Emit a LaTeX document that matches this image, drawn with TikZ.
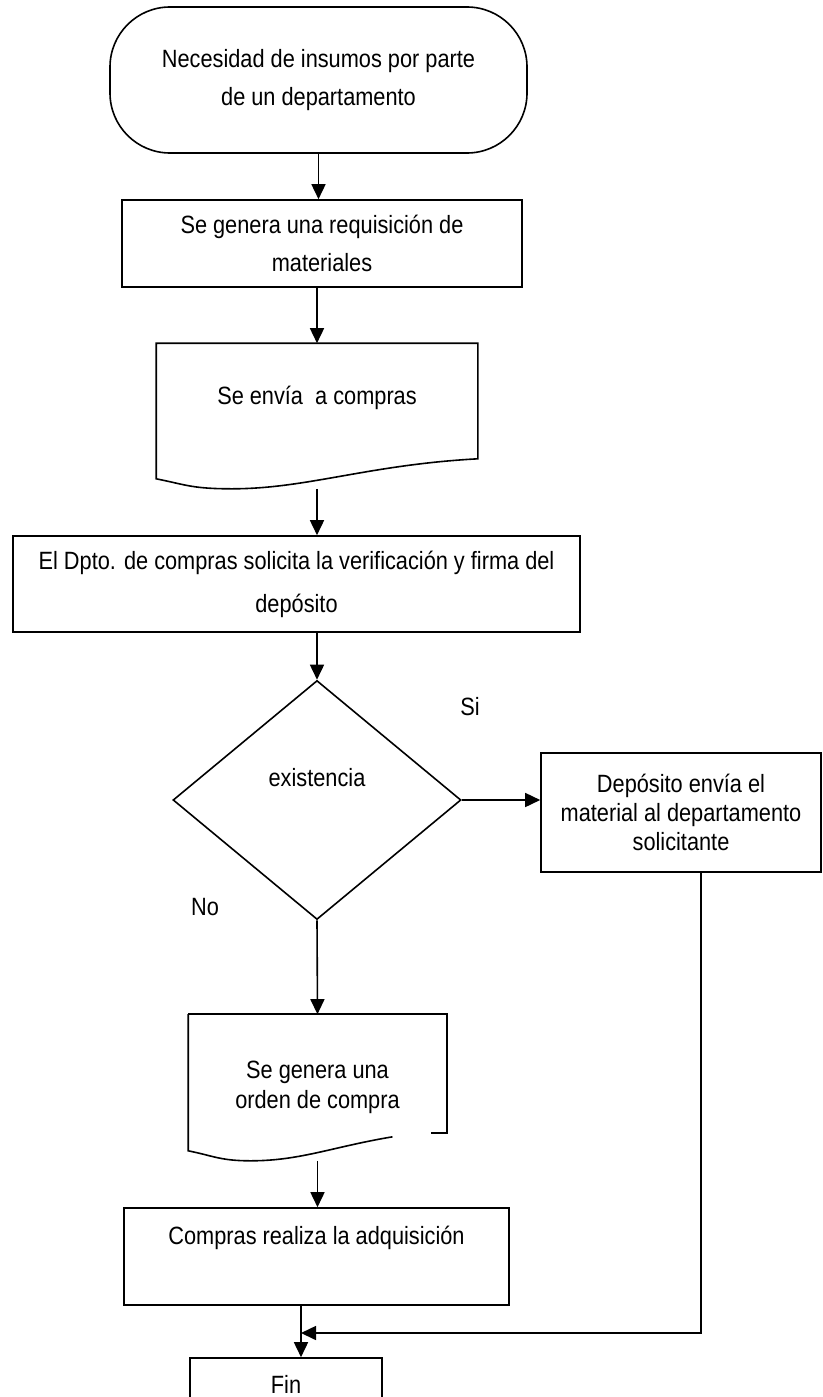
\documentclass[tikz,border=0pt]{standalone}
\usepackage{fontspec}
\setmainfont{Liberation Sans}[FakeStretch=0.87]
\usetikzlibrary{arrows.meta, shapes.geometric}

\begin{document}
\begin{tikzpicture}[x=1pt, y=1pt, line width=1.6pt, >={Triangle[length=15pt,width=14pt]},
                    font=\fontsize{25}{29}\selectfont,
                    main/.style = {draw, rectangle, align=center, inner sep=0pt},
                    term/.style = {draw, rectangle, rounded corners=60pt, align=center, inner sep=0pt},
                    deci/.style = {draw, diamond, align=center, inner sep=0pt},
                    docu/.style = {align=center, inner sep=0pt},
                    lbl/.style = {inner sep=0pt}]
                    \clip (0,0) rectangle (822,-1397);
                    \node[term, minimum width=417pt, minimum height=146pt] (term) at (318.5,-80) {Necesidad de insumos por parte\\[9pt]de un departamento};
                    \node[main, minimum width=400pt, minimum height=87pt] (req) at (322,-243.5) {Se genera una requisición de\\[9pt]materiales};
                    \node[docu, minimum width=320pt, minimum height=144pt] (doc1) at (317,-416) {Se envía\ \ a compras\\[13pt]\mbox{}};
                    \node[main, minimum width=567pt, minimum height=96pt] (dpto) at (296.5,-584) {El Dpto. de compras solicita la verificación y firma del\\[14pt]depósito};
                    \node[deci, minimum width=288pt, minimum height=239pt] (dia) at (317,-800) {existencia\\[17pt]\mbox{}};
                    \node[main, minimum width=280pt, minimum height=119pt] (dep) at (681,-812.5) {Depósito envía el\\material al departamento\\solicitante};
                    \node[docu, minimum width=257pt, minimum height=145pt] (doc2) at (317.5,-1087.5) {Se genera una\\[1pt]orden de compra};
                    \node[main, minimum width=385pt, minimum height=97pt] (adq) at (316.5,-1256.5) {Compras realiza la adquisición\\[13pt]\mbox{}};
                    \node[main, minimum width=192pt, minimum height=52pt] (fin) at (286,-1384) {Fin};
                    \node[lbl] (si) at (470,-707) {Si};
                    \node[lbl] (no) at (205,-907) {No};
                    \coordinate (mrg) at (301,-1333);
                    % document outlines
                    \draw (doc1.north east) -- ([yshift=30pt]doc1.south east) .. controls +(-110,-6) and +(75,0) .. ([xshift=-85pt]doc1.south) .. controls +(-40,0) and +(30,-6) .. ([yshift=10pt]doc1.south west) -- (doc1.north west) -- cycle;
                    \draw (doc2.north west) -- (doc2.north east) -- ([yshift=28pt]doc2.south east) -- ++(-16,0);
                    \draw ([xshift=75pt,yshift=24pt]doc2.south) .. controls +(-60,-10) and +(50,0) .. ([xshift=-67pt]doc2.south) .. controls +(-30,0) and +(25,-5) .. ([yshift=10pt]doc2.south west) -- (doc2.north west);
                    % connectors
                    \draw[->] (term.south) -- (term.south |- req.north);
                    \draw[->] (doc1.north |- req.south) -- (doc1.north);
                    \draw[->] (doc1.south) -- (doc1.south |- dpto.north);
                    \draw[->] (dia.north |- dpto.south) -- (dia.north);
                    \draw[->] (dia.east) -- (dep.west |- dia.east);
                    \draw[->] (dia.south) -- (doc2.north);
                    \draw[->] (doc2.south) -- (doc2.south |- adq.north);
                    \draw[->] (adq.south -| mrg) -- (fin.north -| mrg);
                    \draw[->] ([xshift=20pt]dep.south) |- (mrg);
                \end{tikzpicture}
\end{document}
